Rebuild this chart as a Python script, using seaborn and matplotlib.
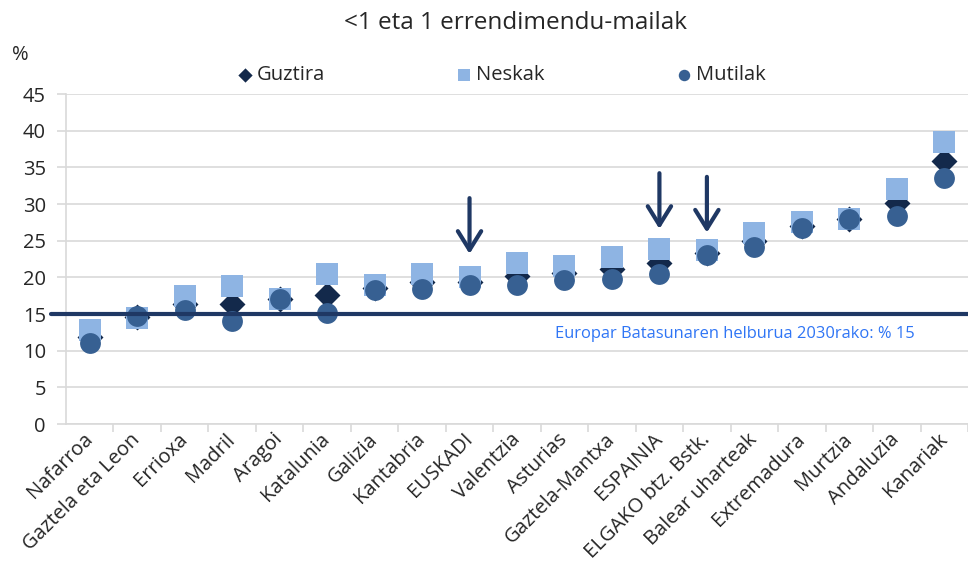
import numpy as np
import pandas as pd
import matplotlib
matplotlib.use("Agg")
import matplotlib.pyplot as plt
import seaborn as sns

regions = ["Nafarroa", "Gaztela eta Leon", "Errioxa", "Madril", "Aragoi", "Katalunia",
           "Galizia", "Kantabria", "EUSKADI", "Valentzia", "Asturias", "Gaztela-Mantxa",
           "ESPAINIA", "ELGAKO btz. Bstk.", "Balear uharteak", "Extremadura", "Murtzia",
           "Andaluzia", "Kanariak"]
guztira = [11.9, 14.6, 16.3, 16.4, 17.0, 17.6, 18.5, 19.3, 19.4, 20.2, 20.6, 21.2,
           22.0, 23.3, 24.9, 27.0, 27.9, 30.2, 35.9]
neskak = [12.8, 14.5, 17.4, 18.8, 17.1, 20.4, 18.9, 20.4, 20.1, 21.9, 21.5, 22.8,
          23.9, 23.7, 26.0, 27.5, 27.9, 32.1, 38.4]
mutilak = [11.1, 14.7, 15.5, 14.1, 17.1, 15.2, 18.3, 18.4, 18.9, 18.9, 19.7, 19.8,
           20.4, 23.0, 24.1, 26.7, 27.9, 28.4, 33.6]

target = 15
target_text = "Europar Batasunaren helburua 2030rako: % 15"
arrow_regions = ["EUSKADI", "ESPAINIA", "ELGAKO btz. Bstk."]
arrow_top = [30.8, 34.2, 33.7]
arrow_tip = [23.2, 26.6, 26.1]

df = pd.DataFrame({"region": regions, "Guztira": guztira, "Neskak": neskak, "Mutilak": mutilak})

sns.set_theme(style="white")
plt.rcParams["font.family"] = ["Open Sans", "DejaVu Sans"]

fig = plt.figure(figsize=(9.68, 5.85), dpi=100)
ax = fig.add_axes([66 / 968, 1 - 424 / 585, 902 / 968, 330 / 585])

navy = "#13294b"
light = "#8eb4e3"
mid = "#376092"

# draw order matters: diamonds under squares under circles
sns.scatterplot(data=df, x="region", y="Guztira", marker="D", s=175, color=navy,
                linewidth=0, label="Guztira", ax=ax, zorder=3)
sns.scatterplot(data=df, x="region", y="Neskak", marker="s", s=245, color=light,
                linewidth=0, label="Neskak", ax=ax, zorder=4)
sns.scatterplot(data=df, x="region", y="Mutilak", marker="o", s=225, color=mid,
                linewidth=0, label="Mutilak", ax=ax, zorder=5)

# target line, sticks out a bit to the left of the axis
ax.axhline(target, xmin=-0.017, xmax=1, color="#1f3864", lw=3, zorder=6, clip_on=False)
ax.text(9.8, 12.3, target_text, color="#2f75f5", fontsize=11.9, va="center", ha="left")

for reg, top, tip in zip(arrow_regions, arrow_top, arrow_tip):
    xi = regions.index(reg)
    ax.annotate("", xy=(xi, tip), xytext=(xi, top),
                arrowprops=dict(arrowstyle="->,head_length=0.45,head_width=0.28",
                                color="#1f3864", lw=3, mutation_scale=30,
                                shrinkA=0, shrinkB=0), zorder=7)

ax.set_ylim(0, 45)
ax.set_yticks(range(0, 50, 5))
ax.set_xlim(-0.5, 18.37)
ax.set_xlabel("")
ax.set_ylabel("")
ax.grid(axis="y", color="#d9d9d9", lw=1.2)
ax.set_axisbelow(True)
for s in ["top", "right"]:
    ax.spines[s].set_visible(False)
for s in ["left", "bottom"]:
    ax.spines[s].set_color("#d9d9d9")
    ax.spines[s].set_linewidth(1.2)

ax.set_xticks(np.arange(len(regions)))
ax.set_xticklabels(regions, rotation=45, ha="right", va="center", rotation_mode="anchor",
                   fontsize=14.5)
ax.set_xticks(np.arange(len(regions)) + 0.5, minor=True)
ax.tick_params(axis="x", which="major", length=0, pad=9)
ax.tick_params(axis="x", which="minor", length=5.5, width=1.2, color="#d9d9d9", bottom=True)
ax.tick_params(axis="y", length=6.5, width=1.2, color="#d9d9d9", left=True, labelsize=14.5, pad=8)

ax.legend(ncol=3, frameon=False, loc="center", bbox_to_anchor=(0.5 - 15 / 902, (75 - 94) / -330 + 1),
          fontsize=14.5, markerscale=0.55, handlelength=0.6, handletextpad=0.3,
          columnspacing=6.6)

fig.text(515 / 968, 1 - 23 / 585, "<1 eta 1 errendimendu-mailak", ha="center", va="center",
         fontsize=17.5)
fig.text(20 / 968, 1 - 55 / 585, "%", ha="center", va="center", fontsize=14.5)

fig.savefig("out.png", dpi=100)
